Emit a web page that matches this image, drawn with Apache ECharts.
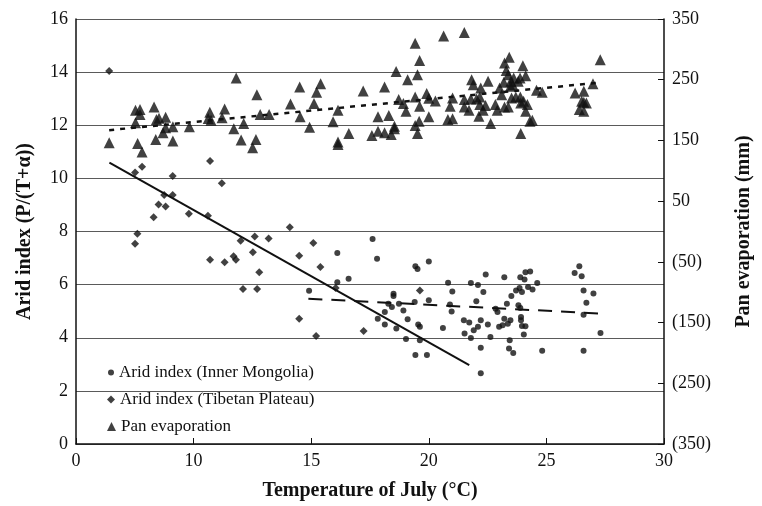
<!DOCTYPE html>
<html>
<head>
<meta charset="utf-8">
<script src="https://cdn.jsdelivr.net/npm/echarts@6/dist/echarts.min.js"></script>
<style>html,body{margin:0;padding:0;background:#fff;}#c{width:762px;height:506px;}</style>
</head>
<body>
<div id="c"></div>
<script>
// Tick labels
const xTicks = [5, 10, 15, 20, 25, 30];
const xTickLabels = ['0', '10', '15', '20', '25', '30'];
const yLeftTicks = [0, 2, 4, 6, 8, 10, 12, 14, 16];
const yRightTicks = [-350, -250, -150, -50, 50, 150, 250, 350];

// Arid index (Inner Mongolia): [temperature, arid index]
const innerMongolia = [
  [16.11,7.19],[17.61,7.72],[17.80,6.97],[16.11,6.09],[16.59,6.22],[14.91,5.77],
  [19.43,6.69],[19.52,6.59],[20.0,6.87],[18.5,5.66],[18.5,5.57],[18.28,5.28],
  [18.43,5.16],[18.73,5.28],[18.13,4.97],[17.83,4.72],[18.13,4.50],[18.62,4.35],
  [18.92,5.03],[19.1,4.7],[19.03,3.95],[19.55,4.5],[19.62,4.41],[19.40,5.35],
  [20.0,5.41],[19.62,3.91],[19.43,3.35],[19.92,3.35],[20.82,6.07],[21.0,5.74],
  [20.97,4.99],[20.9,5.25],[20.6,4.37],[21.79,6.06],[22.09,5.99],[22.32,5.72],
  [22.42,6.38],[22.02,5.37],[21.49,4.66],[21.72,4.57],[21.91,4.28],[22.09,4.41],
  [22.21,4.66],[22.51,4.5],[21.52,4.16],[21.79,3.99],[22.21,3.62],[22.62,4.03],
  [22.21,2.66],[23.21,6.28],[22.84,5.09],[22.92,4.97],[23.21,4.72],[23.32,5.28],
  [23.36,4.53],[22.99,4.41],[23.14,4.47],[23.47,4.66],[23.44,3.91],[23.41,3.6],
  [23.59,3.43],[23.51,5.57],[23.71,5.78],[23.86,5.87],[23.89,6.28],[24.11,6.47],
  [24.31,6.49],[24.07,6.19],[23.96,5.72],[24.22,5.91],[24.41,5.82],[24.61,6.06],
  [23.81,5.22],[23.89,5.12],[23.92,4.78],[23.92,4.66],[23.96,4.44],[24.11,4.43],
  [24.04,4.12],[24.82,3.51],[26.2,6.44],[26.4,6.69],[26.5,6.32],[26.58,5.78],
  [26.7,5.32],[26.58,4.87],[27.0,5.67],[27.3,4.18],[26.58,3.51]
];

// Arid index (Tibetan Plateau): [temperature, arid index]
const tibetanPlateau = [
  [6.41,14.04],[7.51,10.22],[7.81,10.44],[10.70,10.65],[9.11,10.09],[11.20,9.82],
  [8.75,9.37],[9.11,9.37],[8.51,9.02],[8.81,8.94],[8.30,8.54],[9.80,8.67],
  [10.61,8.59],[7.61,7.92],[7.51,7.54],[14.09,8.16],[12.0,7.65],[12.6,7.81],
  [13.19,7.74],[12.52,7.22],[10.70,6.94],[11.32,6.84],[11.70,7.07],[11.80,6.94],
  [12.79,6.47],[12.10,5.84],[12.70,5.84],[14.49,7.09],[15.09,7.57],[15.39,6.66],
  [14.49,4.72],[15.21,4.07],[17.23,4.25],[16.04,5.87],[19.62,5.78]
];

// Pan evaporation (mm): [temperature, evaporation]
const panEvaporation = [
  [6.41,146.2],[7.53,199.8],[7.72,200.9],[7.72,192.7],[7.53,179],[7.62,145.1],
  [7.81,130.9],[8.32,205.2],[8.42,184.5],[8.53,186.7],[8.81,188.3],[8.81,170.8],
  [9.12,172.4],[8.70,162.6],[8.39,151.7],[9.12,149],[9.82,172.4],[10.69,196.5],
  [10.62,186.1],[10.74,183.4],[11.21,187.2],[11.32,201.9],[11.81,252.8],[11.71,169.2],
  [12.02,150.6],[12.13,177.9],[12.69,225.4],[12.83,192.7],[13.21,192.7],[12.65,151.7],
  [12.51,138],[14.12,210.2],[14.51,238],[14.53,188.8],[14.93,171.9],[15.12,210.7],
  [15.23,229.3],[15.4,243.5],[15.93,180.6],[16.14,199.8],[16.14,147.3],[16.14,143.5],
  [16.6,161.5],[17.21,231.5],[17.58,158.2],[17.84,188.8],[18.12,238],[17.84,165.3],
  [18.12,162.6],[18.4,159.9],[18.54,173.5],[18.54,169.2],[18.3,191],[18.61,263.7],
  [18.72,217.3],[18.92,210.7],[19.03,198.1],[19.1,250],[19.42,310.1],[19.61,281.7],
  [19.52,258.2],[19.42,221.6],[19.61,206.3],[19.59,181.7],[19.42,174.6],[19.52,161.5],
  [19.91,227.1],[20.0,219.4],[20.0,188.8],[20.28,215.1],[20.63,322.2],[21.51,327.6],
  [21.01,220],[20.91,206.3],[20.81,184.5],[21.01,185.6],[21.51,217.3],[21.51,205.2],
  [21.71,199.8],[21.82,250],[21.89,241.8],[21.79,218.3],[22.03,218.3],[22.17,221.6],
  [22.21,236.4],[22.17,209.1],[22.13,189.9],[22.31,199.8],[22.41,207.4],[22.52,247.3],
  [22.63,177.9],[22.83,209.1],[22.91,199.8],[23.01,236.4],[23.1,225.4],[23.19,245.7],
  [23.22,277.4],[23.29,265.3],[23.38,258.2],[23.42,287.2],[23.49,247.3],[23.57,241.8],
  [23.47,239.1],[23.61,252.8],[23.22,205.2],[23.38,205.2],[23.52,220],[23.7,221.6],
  [23.8,247.3],[23.88,252.8],[24.0,273],[24.12,256.6],[23.89,221.6],[23.91,211.8],
  [24.03,214.5],[24.19,209.1],[24.12,198.1],[23.91,161.5],[24.3,181.7],[24.4,183.4],
  [24.58,232.6],[24.82,229.3],[26.22,228.2],[26.59,231],[26.5,214.5],[26.59,212.9],
  [26.7,211.8],[26.4,200.9],[26.59,198.1],[26.98,243.5],[27.29,282.8]
];

// Trend lines (end points)
const trendTibet = [[6.42,10.59],[21.72,2.97]];
const trendMongolia = [[14.88,5.47],[27.36,4.91]];
const trendPan = [[6.41,166.9],[27.1,244.6]];

const FONT = 'Liberation Serif';
const INK = '#111';

const chart = echarts.init(document.getElementById('c'), null, {renderer: 'canvas'});
chart.setOption({
  animation: false,
  backgroundColor: '#fff',
  grid: {left: 76, right: 89, top: 19, bottom: 60, containLabel: false},
  xAxis: {
    type: 'value', min: xTicks[0], max: xTicks[xTicks.length - 1], interval: 5,
    name: 'Temperature of July (\u00B0C)', nameLocation: 'middle', nameGap: 37,
    nameTextStyle: {fontFamily: FONT, fontSize: 20, fontWeight: 'bold', color: INK},
    axisLine: {show: true, lineStyle: {color: INK, width: 1.5}},
    axisTick: {show: true, inside: true, length: 6, lineStyle: {color: INK}},
    axisLabel: {fontFamily: FONT, fontSize: 18, color: INK, margin: 8,
      formatter: v => { const i = xTicks.indexOf(v); return i >= 0 ? xTickLabels[i] : ''; }},
    splitLine: {show: false}
  },
  yAxis: [{
    type: 'value', min: yLeftTicks[0], max: yLeftTicks[yLeftTicks.length - 1], interval: 2,
    position: 'left',
    name: 'Arid index (P/(T+\u03B1))', nameLocation: 'middle', nameGap: 41,
    nameTextStyle: {fontFamily: FONT, fontSize: 20, fontWeight: 'bold', color: INK},
    axisLine: {show: true, lineStyle: {color: INK, width: 1.5}},
    axisTick: {show: false},
    axisLabel: {fontFamily: FONT, fontSize: 18, color: INK, margin: 8},
    splitLine: {show: true, lineStyle: {color: '#5a5a5a', width: 1.2}}
  }, {
    type: 'value', min: yRightTicks[0], max: yRightTicks[yRightTicks.length - 1], interval: 100,
    position: 'right',
    name: 'Pan evaporation (mm)', nameLocation: 'middle', nameGap: 70, nameRotate: 90,
    nameTextStyle: {fontFamily: FONT, fontSize: 20, fontWeight: 'bold', color: INK},
    axisLine: {show: true, lineStyle: {color: INK, width: 1.5}},
    axisTick: {show: true, inside: true, length: 6, lineStyle: {color: INK}},
    axisLabel: {fontFamily: FONT, fontSize: 18, color: INK, margin: 8,
      formatter: v => v < 0 ? '(' + Math.abs(v) + ')' : String(v)},
    splitLine: {show: false}
  }],
  legend: [{
    data: [{name: 'Arid index (Inner Mongolia)', icon: 'circle'}],
    orient: 'vertical', left: 103, top: 359, itemWidth: 6, itemHeight: 6, itemGap: 8,
    textStyle: {fontFamily: FONT, fontSize: 17, color: INK}
  }, {
    data: [{name: 'Arid index (Tibetan Plateau)', icon: 'diamond'}],
    orient: 'vertical', left: 102, top: 386, itemWidth: 8, itemHeight: 8, itemGap: 8,
    textStyle: {fontFamily: FONT, fontSize: 17, color: INK}
  }, {
    data: [{name: 'Pan evaporation', icon: 'triangle'}],
    orient: 'vertical', left: 102, top: 413, itemWidth: 9, itemHeight: 9, itemGap: 8,
    textStyle: {fontFamily: FONT, fontSize: 17, color: INK}
  }],
  series: [{
    name: 'Arid index (Inner Mongolia)', type: 'scatter', yAxisIndex: 0,
    symbol: 'circle', symbolSize: 6, itemStyle: {color: INK}, data: innerMongolia, z: 5
  }, {
    name: 'Arid index (Tibetan Plateau)', type: 'scatter', yAxisIndex: 0,
    symbol: 'diamond', symbolSize: 8, itemStyle: {color: INK}, data: tibetanPlateau, z: 5
  }, {
    name: 'Pan evaporation', type: 'scatter', yAxisIndex: 1,
    symbol: 'triangle', symbolSize: 11, itemStyle: {color: INK}, data: panEvaporation, z: 5
  }, {
    name: 'trendTibet', type: 'line', yAxisIndex: 0, data: trendTibet, showSymbol: false,
    symbol: 'none', lineStyle: {color: INK, width: 2}, z: 4
  }, {
    name: 'trendMongolia', type: 'line', yAxisIndex: 0, data: trendMongolia, showSymbol: false,
    symbol: 'none', lineStyle: {color: INK, width: 2, type: [14, 9]}, z: 4
  }, {
    name: 'trendPan', type: 'line', yAxisIndex: 1, data: trendPan, showSymbol: false,
    symbol: 'none', lineStyle: {color: INK, width: 2.5, type: [5, 6]}, z: 4
  }]
});
</script>
</body>
</html>
